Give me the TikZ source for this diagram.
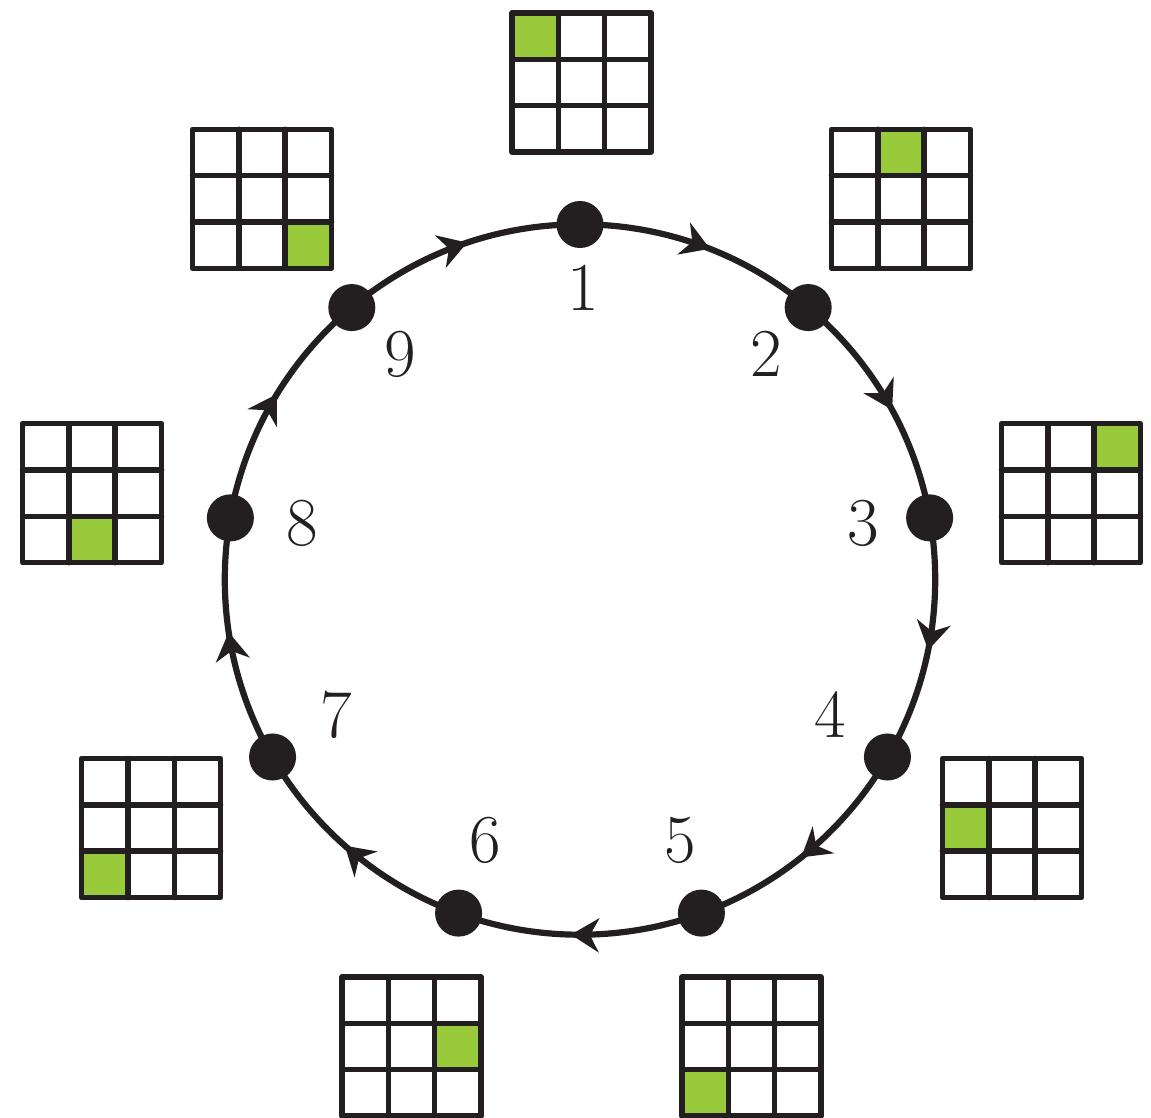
\documentclass[tikz,border=0pt]{standalone}
\usetikzlibrary{decorations.markings,arrows.meta,calc}
\definecolor{ink}{RGB}{35,31,32}
\definecolor{leaf}{RGB}{153,202,60}
\begin{document}
\begin{tikzpicture}[x=0.01cm,y=0.01cm,
  ring/.style={draw=ink,line width=0.062cm,
    postaction={decorate},
    decoration={markings,
      mark=between positions 0.0596 and 1 step 0.11111 with
        {\arrow{Stealth[length=0.28cm,width=0.34cm,inset=0.09cm]}}}},
  dot/.style={circle,fill=ink,inner sep=0pt,minimum size=0.47cm},
  lab/.style={text=ink,inner sep=0pt,font=\fontsize{19.5pt}{22pt}\selectfont},
  gridline/.style={draw=ink,line width=0.055cm,line join=round,line cap=round},
  cell/.style={fill=leaf}]
\useasboundingbox (0,0) rectangle (1151,1117);
\coordinate (c) at (580,537.5);
% ring
\draw[ring] (c) ++(90:3.55cm) arc[start angle=90,end angle=-270,radius=3.55cm];
% nodes and labels
\foreach \k in {1,...,9}{
  \pgfmathsetmacro{\a}{130-40*\k}
  \path (c) ++(\a:355) node[dot] (n\k) {};
  \path (c) ++(\a:285) ++(3,7) node[lab] (l\k) {\k};
}
% grids
\foreach \k/\p in {1/1,2/2,3/3,4/4,5/7,6/6,7/7,8/8,9/9}{
  \pgfmathsetmacro{\a}{130-40*\k}
  \pgfmathtruncatemacro{\col}{mod(\p-1,3)}
  \pgfmathtruncatemacro{\row}{div(\p-1,3)}
  \coordinate (g\k) at ($(c)+(\a:497)+(1.5,0)$);
  \begin{scope}[shift={(g\k)}]
    \fill[cell] ({-69.5+\col*46.333},{69.5-\row*46.333}) rectangle ({-69.5+(\col+1)*46.333},{69.5-(\row+1)*46.333});
    \draw[gridline] (-69.5,-69.5) rectangle (69.5,69.5);
    \draw[gridline] (-23.167,-69.5) -- (-23.167,69.5) (23.167,-69.5) -- (23.167,69.5)
                    (-69.5,-23.167) -- (69.5,-23.167) (-69.5,23.167) -- (69.5,23.167);
  \end{scope}
}
\end{tikzpicture}
\end{document}
